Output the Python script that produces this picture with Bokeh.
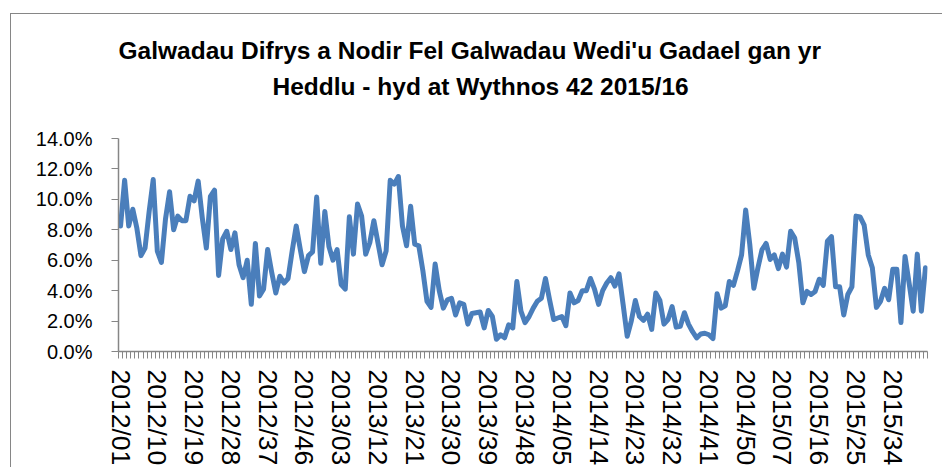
from bokeh.plotting import figure
from bokeh.models import Range1d, FixedTicker, PrintfTickFormatter, Title
from bokeh.embed import file_html
from bokeh.resources import INLINE

# ---- data ----
years = [2012, 2013, 2014, 2015]
weeks_in_year = [52, 52, 52, 42]
categories = [f"{y}/{w:02d}" for y, n in zip(years, weeks_in_year) for w in range(1, n + 1)]

# percentage of emergency calls recorded as abandoned calls, weekly
values = [
    8.25, 11.25, 8.25, 9.35, 8.1, 6.3, 6.8, 9.2, 11.3, 6.6,
    5.85, 8.7, 10.5, 8.0, 8.9, 8.6, 8.6, 10.2, 9.9, 11.2,
    8.8, 6.8, 10.2, 10.6, 5.0, 7.4, 7.9, 6.7, 7.8, 5.7,
    4.85, 6.0, 3.1, 7.1, 3.65, 4.1, 6.7, 5.2, 3.85, 4.95,
    4.5, 4.8, 6.6, 8.25, 6.7, 5.25, 6.3, 6.55, 10.15, 5.8,
    9.2, 6.9, 6.0, 6.7, 4.4, 4.1, 8.85, 6.4, 9.7, 8.9,
    6.4, 7.15, 8.6, 7.15, 5.7, 6.6, 11.25, 11.0, 11.5, 8.25,
    6.95, 9.55, 7.05, 6.95, 5.3, 3.3, 2.9, 5.75, 4.0, 2.85,
    3.4, 3.5, 2.4, 3.2, 3.1, 1.8, 2.5, 2.55, 2.6, 1.55,
    2.7, 2.3, 0.8, 1.1, 0.9, 1.75, 1.55, 4.6, 2.65, 1.9,
    2.3, 2.85, 3.3, 3.5, 4.8, 3.4, 2.1, 2.2, 2.3, 1.7,
    3.85, 3.2, 3.35, 4.0, 4.0, 4.8, 4.1, 3.1, 4.0, 4.5,
    4.85, 4.3, 5.1, 3.1, 1.0, 2.0, 3.35, 2.3, 2.05, 2.45,
    1.45, 3.85, 3.35, 1.8, 2.1, 2.95, 1.6, 1.65, 2.55, 1.8,
    1.3, 0.9, 1.15, 1.2, 1.1, 0.85, 3.8, 2.85, 3.0, 4.6,
    4.35, 5.3, 6.35, 9.3, 7.05, 4.15, 5.5, 6.7, 7.1, 6.05,
    6.35, 5.45, 6.4, 5.55, 7.9, 7.45, 5.85, 3.2, 3.95, 3.75,
    3.95, 4.75, 4.35, 7.25, 7.55, 4.25, 4.25, 2.4, 3.75, 4.25,
    8.9, 8.85, 8.3, 6.35, 5.5, 2.9, 3.3, 4.15, 3.4, 5.4,
    5.4, 1.9, 6.25, 4.5, 2.65, 6.4, 2.65, 5.5,
]
label_step = 9
y_ticks = [0, 2, 4, 6, 8, 10, 12, 14]
title_line1 = "Galwadau Difrys a Nodir Fel Galwadau Wedi'u Gadael gan yr"
title_line2 = "Heddlu - hyd at Wythnos 42 2015/16"

n = len(categories)
xs = [i + 0.5 for i in range(n)]

GREY = "#868686"
FONT = "Liberation Sans"

p = figure(
    width=932, height=454,
    output_backend="svg", toolbar_location=None,
    x_range=Range1d(0, n), y_range=Range1d(y_ticks[0], y_ticks[-1]),
    min_border_left=107, min_border_right=16,
    min_border_top=124, min_border_bottom=117,
    margin=(13, 0, 0, 10),
    styles={"border-left": "1px solid #868686", "border-top": "1px solid #868686"},
)
p.outline_line_color = None
p.xgrid.visible = False
p.ygrid.visible = False
p.background_fill_color = "white"
p.border_fill_color = "white"

p.line(xs, values, line_color="#4a7ebb", line_width=5,
       line_join="round", line_cap="round")

# x axis: labels every 9th week, tick marks between every category
label_idx = list(range(0, n, label_step))
xa = p.xaxis[0]
xa.ticker = FixedTicker(ticks=[i + 0.5 for i in label_idx],
                        minor_ticks=list(range(n + 1)))
xa.major_label_overrides = {i + 0.5: categories[i] for i in label_idx}
xa.major_label_orientation = "vertical"
xa.major_tick_line_color = None
xa.minor_tick_line_color = GREY
xa.minor_tick_in = 0
xa.minor_tick_out = 7
xa.axis_line_color = GREY
xa.axis_line_width = 1.5
xa.major_label_standoff = 11
xa.major_label_text_font = FONT
xa.major_label_text_font_size = "26.5px"
xa.major_label_text_color = "black"

ya = p.yaxis[0]
ya.ticker = FixedTicker(ticks=y_ticks)
ya.formatter = PrintfTickFormatter(format="%.1f%%")
ya.major_tick_in = 0
ya.major_tick_out = 7
ya.major_tick_line_color = GREY
ya.minor_tick_line_color = None
ya.axis_line_color = GREY
ya.axis_line_width = 1.5
ya.major_label_standoff = 19
ya.major_label_text_font = FONT
ya.major_label_text_font_size = "20px"
ya.major_label_text_color = "black"

title_style = dict(text_font=FONT, text_font_style="bold",
                   text_font_size="24.5px", text_color="black")
spacer = Title(text=" ", standoff=31, text_font_size="2px")
t2 = Title(text=title_line2, align="left", offset=154, standoff=8, **title_style)
t1 = Title(text=title_line1, align="left", offset=0, standoff=5, **title_style)
p.add_layout(spacer, "above")
p.add_layout(t2, "above")
p.add_layout(t1, "above")

open("out.html", "w").write(file_html(p, INLINE))
